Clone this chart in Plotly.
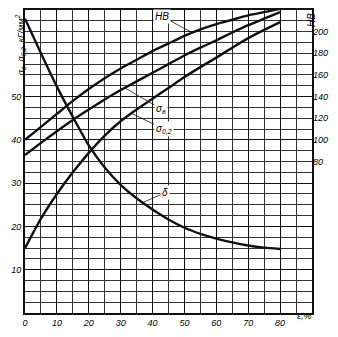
import numpy as np
import plotly.graph_objects as go

# Cold-work strain, %
strain = [0, 5, 10, 15, 20, 25, 30, 35, 40, 45, 50, 55, 60, 65, 70, 75, 80]

# Brinell hardness (right axis)
hb = [100, 112, 124, 136, 147, 157, 166, 174, 182, 189, 196, 202, 207, 211, 215, 218, 221]
# Ultimate strength, kgf/mm^2
sigma_b = [36.5, 39.3, 42.0, 44.6, 47.0, 49.3, 51.5, 53.5, 55.5, 57.5, 59.5, 61.3, 63.0, 64.8, 66.5, 68.0, 69.5]
# Yield strength 0.2 %, kgf/mm^2
sigma_02 = [15.0, 21.8, 27.5, 32.5, 37.0, 41.0, 44.3, 47.0, 49.5, 52.0, 54.5, 56.8, 59.0, 61.3, 63.5, 65.4, 67.2]
# Elongation, %
delta = [68.0, 60.0, 52.3, 45.3, 38.7, 33.6, 29.6, 26.5, 23.9, 21.6, 19.7, 18.3, 17.2, 16.3, 15.6, 15.1, 14.8]

x_ticks = [0, 10, 20, 30, 40, 50, 60, 70, 80]
y_ticks = [10, 20, 30, 40, 50]
hb_ticks = [80, 100, 120, 140, 160, 180, 200]

FONT = dict(family="Liberation Sans", size=9, color="black", style="italic")
INK = "#111111"

fig = go.Figure()
curve = dict(color=INK, width=2.4, shape="spline", smoothing=0.6)
fig.add_trace(go.Scatter(x=strain, y=sigma_b, mode="lines", line=curve, yaxis="y"))
fig.add_trace(go.Scatter(x=strain, y=sigma_02, mode="lines", line=curve, yaxis="y"))
fig.add_trace(go.Scatter(x=strain, y=delta, mode="lines", line=curve, yaxis="y"))
fig.add_trace(go.Scatter(x=strain, y=hb, mode="lines", line=curve, yaxis="y2"))


def leader(text, x_tip, series, x_txt, y_txt, yref="y"):
    y_tip = float(np.interp(x_tip, strain, series))
    fig.add_annotation(x=x_tip, y=y_tip, xref="x", yref=yref,
                       ax=x_txt, ay=y_txt, axref="x", ayref=yref,
                       text=text, showarrow=True, arrowhead=0, arrowwidth=0.8,
                       arrowcolor=INK, standoff=0, startstandoff=0,
                       font=dict(FONT, size=10), bgcolor="white")


leader("HB", 52.5, hb, 43.0, 214.0, yref="y2")
leader("σ<sub>в</sub>", 31.3, sigma_b, 42.5, 47.2)
leader("σ<sub>0,2</sub>", 33.4, sigma_02, 43.5, 42.5)
leader("δ", 36.9, delta, 44.0, 27.8)

# axis titles
fig.add_annotation(x=-0.045, y=62.0, xref="paper", yref="y", showarrow=False,
                   text="σ<sub>в</sub>, σ<sub>0,2</sub>, кГ/мм<sup>2</sup>",
                   textangle=-90, font=FONT)
fig.add_annotation(x=1.024, y=67.8, xref="paper", yref="y", showarrow=False,
                   text="HB", textangle=-90, font=dict(FONT, size=10))
fig.add_annotation(x=87.5, y=-0.032, xref="x", yref="paper", showarrow=False,
                   text="ε,%", font=FONT)

fig.update_layout(
    width=338, height=337,
    margin=dict(l=25, r=26, t=8, b=24),
    paper_bgcolor="white", plot_bgcolor="white",
    showlegend=False,
    font=FONT,
    xaxis=dict(range=[0, 90], tickmode="array", tickvals=x_ticks,
               showgrid=True, gridcolor=INK, gridwidth=1.4,
               minor=dict(dtick=5, tick0=0, showgrid=True, gridcolor="#333333", gridwidth=0.9),
               showline=True, linecolor=INK, linewidth=2, mirror=True,
               ticks="", zeroline=False, tickfont=FONT),
    yaxis=dict(range=[0, 70], tickmode="array", tickvals=y_ticks,
               showgrid=True, gridcolor=INK, gridwidth=1.3,
               minor=dict(dtick=2.5, tick0=0, showgrid=True, gridcolor="#333333", gridwidth=0.9),
               showline=True, linecolor=INK, linewidth=2, mirror=True,
               ticks="", zeroline=False, tickfont=FONT),
    yaxis2=dict(range=[-60, 220], overlaying="y", side="right", tickmode="array",
                tickvals=hb_ticks, showgrid=False, zeroline=False, showline=False,
                ticks="", tickfont=FONT),
)

fig.write_html("out.html")
